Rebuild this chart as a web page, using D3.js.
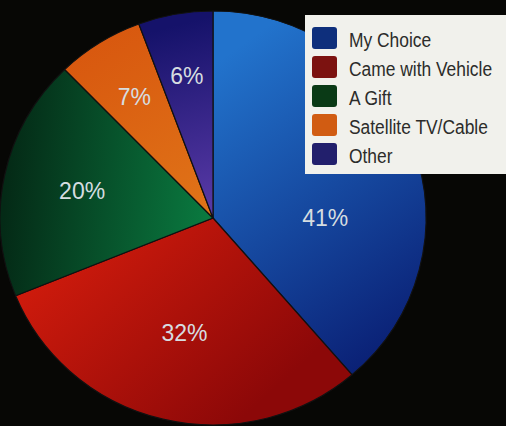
<!DOCTYPE html>
<html lang="en">
<head>
<meta charset="utf-8">
<title>Pie: source of receiver</title>
<script src="https://cdn.jsdelivr.net/npm/d3@7"></script>
<style>
  body { margin: 0; background: #070705; }
  svg { display: block; }
</style>
</head>
<body>
<script>
// data
var categories = ["My Choice", "Came with Vehicle", "A Gift", "Satellite TV/Cable", "Other"];
var percents = [41, 32, 20, 7, 6];
var legendColors = ["#0e2f7c", "#7c1210", "#0a3a16", "#d15c12", "#221f6c"];

var w = 506, h = 426;
var cx = 213, cy = 218, rx = 213, ry = 207;

var svg = d3.select("body").append("svg")
  .attr("width", w)
  .attr("height", h);

svg.append("rect").attr("width", w).attr("height", h).attr("fill", "#070705");

// gradients for each slice
var defs = svg.append("defs");
var grads = [
  { id: "g0", x1: 220, y1: 60, x2: 420, y2: 330, stops: ["#2273cc", "#0a1f74"] },
  { id: "g1", x1: 80, y1: 250, x2: 240, y2: 420, stops: ["#cc1a0c", "#8c0808"] },
  { id: "g2", x1: 10, y1: 200, x2: 210, y2: 215, stops: ["#042a16", "#0a7a40"] },
  { id: "g3", x1: 100, y1: 40, x2: 210, y2: 215, stops: ["#d8580f", "#e07418"] },
  { id: "g4", x1: 160, y1: 30, x2: 210, y2: 215, stops: ["#15126a", "#5a3aa8"] }
];
grads.forEach(function(g) {
  var lg = defs.append("linearGradient")
    .attr("id", g.id)
    .attr("gradientUnits", "userSpaceOnUse")
    .attr("x1", g.x1 - cx).attr("y1", g.y1 - cy)
    .attr("x2", g.x2 - cx).attr("y2", g.y2 - cy);
  lg.append("stop").attr("offset", "0%").attr("stop-color", g.stops[0]);
  lg.append("stop").attr("offset", "100%").attr("stop-color", g.stops[1]);
});

var pie = d3.pie().sort(null).value(function(d) { return d; });
var arcs = pie(percents);

var arc = d3.arc().innerRadius(0).outerRadius(ry);

var pieG = svg.append("g")
  .attr("transform", "translate(" + cx + "," + cy + ") scale(" + (rx / ry) + ",1)");

pieG.selectAll("path")
  .data(arcs)
  .enter()
  .append("path")
  .attr("d", arc)
  .attr("fill", function(d, i) { return "url(#g" + i + ")"; })
  .attr("stroke", "#111")
  .attr("stroke-width", 1.2)
  .attr("vector-effect", "non-scaling-stroke");

// percent labels
svg.selectAll("text.pct")
  .data(arcs)
  .enter()
  .append("text")
  .attr("class", "pct")
  .attr("transform", function(d, i) {
    var r = 150 - d.value;
    var a = i === 0 ? Math.PI / 2 : (d.startAngle + d.endAngle) / 2;
    var x = cx + Math.sin(a) * r * (rx / ry);
    var y = cy - Math.cos(a) * r;
    return "translate(" + x + "," + y + ")";
  })
  .attr("text-anchor", "middle")
  .attr("dy", "0.35em")
  .attr("font-family", "Liberation Sans, Arial, sans-serif")
  .attr("font-size", 23)
  .attr("fill", "#d6dde0")
  .text(function(d) { return d.value + "%"; });

// legend
var legend = svg.append("g");
legend.append("rect")
  .attr("x", 305).attr("y", 15)
  .attr("width", 220).attr("height", 159)
  .attr("fill", "#f1f1ec");

var rows = legend.selectAll("g.row")
  .data(categories)
  .enter()
  .append("g")
  .attr("class", "row")
  .attr("transform", function(d, i) { return "translate(312," + (27 + i * 29) + ")"; });

rows.append("rect")
  .attr("width", 25).attr("height", 22).attr("rx", 3)
  .attr("fill", function(d, i) { return legendColors[i]; });

// condensed look: squeeze a regular sans horizontally
rows.append("text")
  .attr("transform", "translate(37,20) scale(0.87,1)")
  .attr("font-family", "Liberation Sans, Arial, sans-serif")
  .attr("font-size", 20)
  .attr("fill", "#2c2c2a")
  .text(function(d) { return d; });
</script>
</body>
</html>
